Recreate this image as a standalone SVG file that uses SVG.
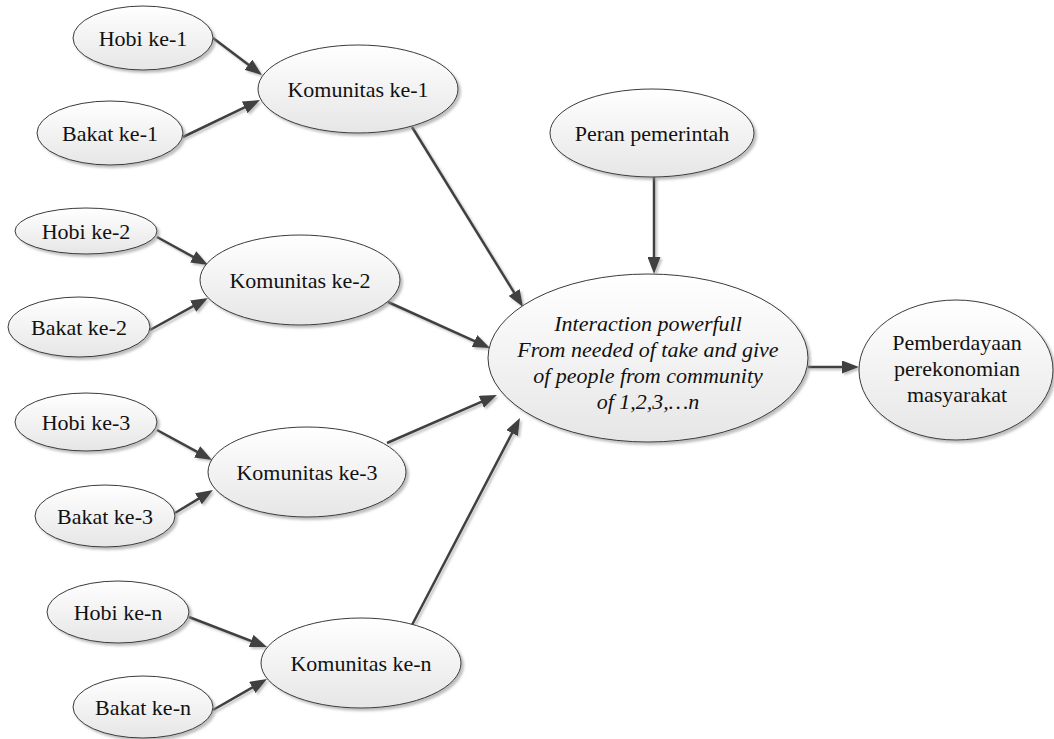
<svg xmlns="http://www.w3.org/2000/svg" width="1054" height="739" viewBox="0 0 1054 739">
<style>
.n ellipse{fill:url(#g);stroke:#3a3a3a;stroke-width:1;filter:url(#sh)}
.n text{font-size:22px;fill:#111;text-anchor:middle}
.c line{stroke:#404040;stroke-width:2.5;marker-end:url(#ah)}
.it{font-style:italic}
</style>
<defs>
<linearGradient id="g" x1="0" y1="0" x2="0" y2="1">
<stop offset="0" stop-color="#ffffff"/>
<stop offset="1" stop-color="#e6e6e6"/>
</linearGradient>
<filter id="sh" x="-10%" y="-10%" width="130%" height="130%">
<feDropShadow dx="2.5" dy="2.5" stdDeviation="1.2" flood-color="#888" flood-opacity="0.55"/>
</filter>
<filter id="lsh" x="-10%" y="-10%" width="130%" height="130%">
<feDropShadow dx="2" dy="2" stdDeviation="0.8" flood-color="#999" flood-opacity="0.6"/>
</filter>
<marker id="ah" markerUnits="userSpaceOnUse" markerWidth="17" markerHeight="13" refX="8" refY="6.5" orient="auto">
<path d="M0,0 L17,6.5 L0,13 z" fill="#404040"/>
</marker>
</defs>
<rect width="1054" height="739" fill="#fff"/>
<g id="connectors" class="c" filter="url(#lsh)">
<line x1="213" y1="38" x2="254.8" y2="69.6"/>
<line x1="183" y1="137" x2="251.9" y2="103.9"/>
<line x1="412" y1="127" x2="518.3" y2="299.3"/>
<line x1="157" y1="237" x2="200.1" y2="260.7"/>
<line x1="150" y1="330" x2="200.1" y2="302.3"/>
<line x1="388" y1="302" x2="481.8" y2="344.3"/>
<line x1="157" y1="430" x2="204.1" y2="455.7"/>
<line x1="175" y1="513" x2="205.3" y2="494.6"/>
<line x1="387" y1="443" x2="488.7" y2="398.6"/>
<line x1="412" y1="625" x2="515.8" y2="426"/>
<line x1="189" y1="617" x2="258.6" y2="643.8"/>
<line x1="213" y1="710" x2="259.2" y2="683.5"/>
<line x1="654" y1="177" x2="654" y2="265"/>
<line x1="808" y1="367" x2="850" y2="367"/>
</g>
<g font-family="Liberation Serif, Times New Roman, Tinos, DejaVu Serif, serif">
<g id="hobi1" class="n"><ellipse cx="143" cy="38" rx="70" ry="32"/><text x="143" y="46">Hobi ke-1</text></g>
<g id="bakat1" class="n"><ellipse cx="110" cy="133" rx="73" ry="32"/><text x="110" y="141">Bakat ke-1</text></g>
<g id="kom1" class="n"><ellipse cx="358" cy="89" rx="100" ry="44"/><text x="358" y="97">Komunitas ke-1</text></g>
<g id="hobi2" class="n"><ellipse cx="86" cy="231" rx="71" ry="23"/><text x="86" y="239">Hobi ke-2</text></g>
<g id="bakat2" class="n"><ellipse cx="79" cy="327" rx="71" ry="30"/><text x="79" y="335">Bakat ke-2</text></g>
<g id="kom2" class="n"><ellipse cx="300" cy="280" rx="100" ry="45"/><text x="300" y="288">Komunitas ke-2</text></g>
<g id="hobi3" class="n"><ellipse cx="86" cy="422" rx="71" ry="29"/><text x="86" y="430">Hobi ke-3</text></g>
<g id="bakat3" class="n"><ellipse cx="105" cy="516" rx="70" ry="31"/><text x="105" y="524">Bakat ke-3</text></g>
<g id="kom3" class="n"><ellipse cx="307" cy="472" rx="99" ry="45"/><text x="307" y="480">Komunitas ke-3</text></g>
<g id="hobin" class="n"><ellipse cx="118" cy="612" rx="71" ry="31"/><text x="118" y="620">Hobi ke-n</text></g>
<g id="bakatn" class="n"><ellipse cx="143" cy="707" rx="70" ry="31"/><text x="143" y="715">Bakat ke-n</text></g>
<g id="komn" class="n"><ellipse cx="361" cy="663" rx="100" ry="45"/><text x="361" y="671">Komunitas ke-n</text></g>
<g id="peran" class="n"><ellipse cx="652" cy="133" rx="102" ry="44"/><text x="652" y="141">Peran pemerintah</text></g>
<g id="central" class="n"><ellipse cx="648" cy="358" rx="160" ry="84"/>
<text class="it" x="648" y="331">Interaction powerfull</text>
<text class="it" x="648" y="357">From needed of take and give</text>
<text class="it" x="648" y="383">of people from community</text>
<text class="it" x="648" y="409">of 1,2,3,…n</text></g>
<g id="pemberdayaan" class="n"><ellipse cx="956" cy="370" rx="97" ry="70"/>
<text x="957" y="350">Pemberdayaan</text>
<text x="957" y="376">perekonomian</text>
<text x="957" y="402">masyarakat</text></g>
</g>
</svg>
